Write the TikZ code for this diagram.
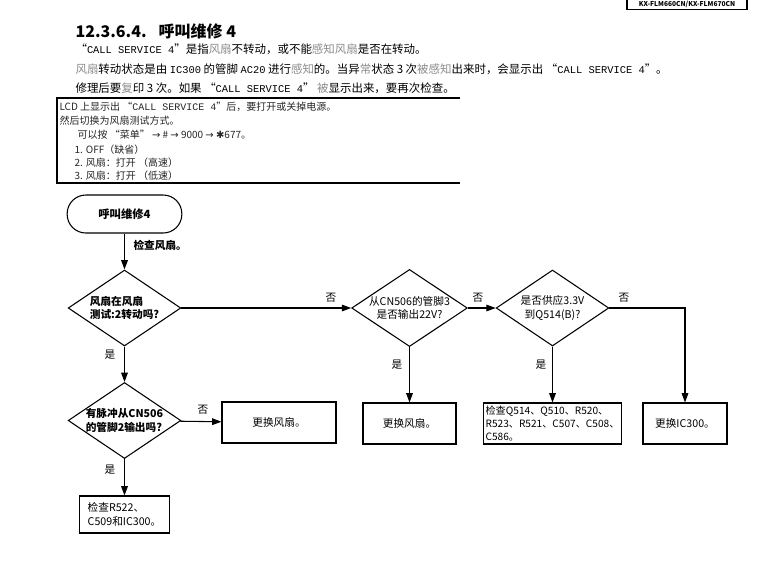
\documentclass[tikz,border=0pt]{standalone}
\usepackage{fontspec}
\setmainfont{Noto Sans CJK SC}
\newfontfamily\monofont{Liberation Mono}
\newfontfamily\symfont{DejaVu Sans}
\usetikzlibrary{shapes.geometric,arrows.meta}
\newcommand{\callsvc}{{\monofont\fontsize{7.8}{10}\selectfont CALL SERVICE 4}}
\newcommand{\lt}[1]{\textcolor{black!45}{#1}}
\begin{document}
\begin{tikzpicture}[x=0.75pt,y=-0.75pt,line width=0.8pt,
  every node/.style={inner sep=0pt},
  para/.style={anchor=west,font=\fontsize{8.6}{11}\selectfont},
  note/.style={anchor=west,font=\fontsize{7.5}{9}\selectfont,text=black!85},
  term/.style={draw,rounded corners=14pt,minimum width=86pt,minimum height=28.5pt,font=\bfseries\fontsize{8.5}{10}\selectfont},
  decide/.style={draw,diamond,aspect=1.5,minimum width=84.5pt,minimum height=57pt,font=\fontsize{8}{10}\selectfont,align=center},
  action/.style={draw,minimum height=30.75pt,font=\fontsize{8}{10}\selectfont,align=left},
  yesno/.style={font=\fontsize{8}{10}\selectfont},
  flow/.style={-{Triangle[length=7pt,width=5pt]}}
]
\useasboundingbox (0,0) rectangle (781,561);
\fill[white] (0,0) rectangle (781,561);
\node[draw,minimum width=90pt,minimum height=7.5pt,font=\bfseries\fontsize{5}{6}\selectfont] (hdr) at (687,4.5){KX-FLM660CN/KX-FLM670CN};
\node[anchor=west,font=\bfseries\fontsize{12}{14}\selectfont] (title) at (75,31){12.3.6.4.\hspace{9pt}呼叫维修 4};
\node[para] (p1) at (75,49){“\callsvc”是指\lt{风扇}不转动，或不能\lt{感知风扇}是否在转动。};
\node[para] (p2) at (75,69){\lt{风扇}转动状态是由 {\monofont\fontsize{7.8}{10}\selectfont IC300} 的管脚 {\monofont\fontsize{7.8}{10}\selectfont AC20} 进行\lt{感知}的。当异\lt{常}状态 3 次\lt{被感知}出来时，会显示出 “\callsvc”。};
\node[para] (p3) at (75,88){修理后要\lt{复}印 3 次。如果 “\callsvc” \lt{被}显示出来，要再次检查。};
\draw (460,98) -- (57,98) -- (57,183) -- (460,183);
\node[note] (t1) at (59,107){LCD 上显示出 “{\monofont CALL SERVICE 4}”后，要打开或关掉电源。};
\node[note] (t2) at (59,121){然后切换为风扇测试方式。};
\node[note] (t3) at (77,135){可以按 “菜单” {\symfont →} \# {\symfont →} 9000 {\symfont →} {\symfont ✱}677。};
\node[note] (t4) at (74,150){1. OFF（缺省）};
\node[note] (t5) at (74,163){2. 风扇：打开 （高速）};
\node[note] (t6) at (74,176){3. 风扇：打开 （低速）};
\node[term] (start) at (124.5,214){呼叫维修4};
\node[decide,font=\bfseries\fontsize{8}{10}\selectfont,align=left] (q1) at (124.5,308){风扇在风扇\\测试:2转动吗?};
\node[decide] (q2) at (409.5,308){从CN506的管脚3\\是否输出22V?};
\node[decide] (q3) at (552.5,308){是否供应3.3V\\到Q514(B)?};
\node[decide,font=\bfseries\fontsize{8}{10}\selectfont,align=left] (q4) at (124.5,420.5){有脉冲从CN506\\的管脚2输出吗?};
\node[action,minimum width=85.5pt] (fan1) at (279,422.5){更换风扇。};
\node[action,minimum width=69.75pt] (fan2) at (409.5,423.5){更换风扇。};
\node[action,minimum width=104pt,font=\fontsize{7.6}{9.5}\selectfont] (parts) at (552.5,423.5){检查Q514、Q510、R520、\\R523、R521、C507、C508、\\C586。};
\node[action,minimum width=63pt] (ic) at (685,423.5){更换IC300。};
\node[action,minimum width=63pt,minimum height=27.75pt,inner xsep=6pt] (chk) at (124.5,514.5){检查R522、\\C509和IC300。};
\node[anchor=west,font=\bfseries\fontsize{8}{10}\selectfont] (lchk) at (133,245){检查风扇。};
\node[yesno] (n1) at (331,298){否};
\node[yesno] (n2) at (478,298){否};
\node[yesno] (n3) at (624,298){否};
\node[yesno] (n4) at (203,410){否};
\node[yesno] (y1) at (110,355){是};
\node[yesno] (y2) at (397,365){是};
\node[yesno] (y3) at (541,365){是};
\node[yesno] (y4) at (110,470){是};
\draw[flow](start) -- (q1);
\draw[flow](q1) -- (q2);
\draw[flow](q2) -- (q3);
\draw[flow](q3.east) -| (ic.north);
\draw[flow](q2) -- (fan2);
\draw[flow](q3) -- (parts);
\draw[flow](q1) -- (q4);
\draw[flow](q4) -- (fan1);
\draw[flow](q4) -- (chk);
\end{tikzpicture}
\end{document}
